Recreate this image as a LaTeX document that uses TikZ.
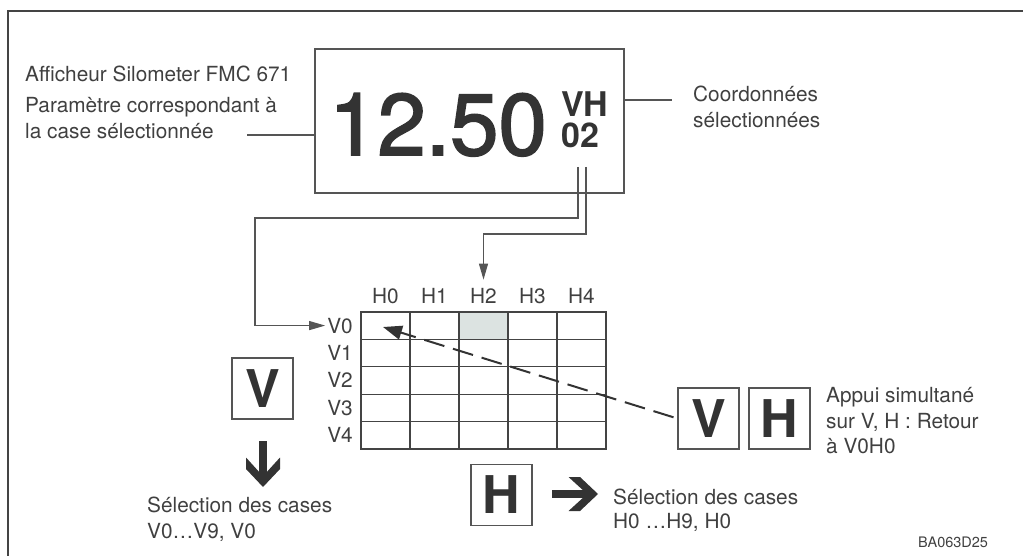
\documentclass[tikz,border=0pt]{standalone}
\usepackage{fontspec}
\setmainfont{TeX Gyre Heros}
\newfontfamily\medfont[FakeBold=2]{TeX Gyre Heros}
\usetikzlibrary{arrows.meta}
\definecolor{txtgray}{HTML}{404040}
\definecolor{dark}{HTML}{333333}
\definecolor{lngray}{HTML}{555555}
\definecolor{cellfill}{HTML}{DCE3E1}
\begin{document}
\begin{tikzpicture}[x=1pt,y=-1pt,
  txt/.style={font=\fontsize{20.8}{26}\selectfont, text=txtgray, inner sep=0pt},
  lbl/.style={txt, inner sep=2pt},
  keybox/.style={draw=lngray, line width=1.3pt, minimum width=61pt, minimum height=61pt, inner sep=0pt,
    font=\fontsize{52}{52}\selectfont\bfseries, text=dark},
  conn/.style={draw=lngray, line width=1.2pt, -{Triangle[length=16pt,width=9pt]}},
  thinline/.style={draw=lngray, line width=1.2pt},
  gridline/.style={draw=lngray!80!black, line width=1.3pt},
  fatarrow/.pic={\fill[dark] (0,0) -- (-18,-17) -- (-29.5,-17) -- (-15,-3.8) -- (-46,-3.8) -- (-46,3.8) -- (-15,3.8) -- (-29.5,17) -- (-18,17) -- cycle;},
]
\useasboundingbox (0,0) rectangle (1023,556);
% outer frame
\draw[draw=lngray!80!black, line width=2pt] (7.5,556) -- (7.5,11) -- (1023,11);

% texts top left
\node[txt, anchor=base west] (t1) at (25,82) {Afficheur Silometer FMC 671};
\node[txt, anchor=base west] (t2a) at (25,113) {Paramètre correspondant à};
\node[txt, anchor=base west] (t2b) at (25,139) {la case sélectionnée};

% display
\node[draw=lngray, line width=1.3pt, minimum width=309pt, minimum height=144pt, inner sep=0pt] (disp) at (469.5,121) {};
\node[anchor=base west, inner sep=0pt, font=\medfont\fontsize{87}{87}\selectfont, text=dark] (val) at (329,155) {12.50};
\node[anchor=base west, inner sep=0pt, font=\fontsize{34}{34}\selectfont\bfseries, text=dark] (vh) at (561,117) {VH};
\node[anchor=base west, inner sep=0pt, font=\fontsize{34}{34}\selectfont\bfseries, text=dark] (n02) at (561,148) {02};

\draw[thinline] (247,135) -- (disp.west |- 0,135);
\draw[thinline] (disp.east |- 0,100) -- (672,100);
\node[txt, anchor=base west] (t3a) at (693,102) {Coordonnées};
\node[txt, anchor=base west] (t3b) at (693,128) {sélectionnées};

% grid
\fill[cellfill] (459,312) rectangle (508,339.4);
\node[gridline, minimum width=245pt, minimum height=137pt, inner sep=0pt] (grid) at (483.5,380.5) {};
\foreach \i in {1,...,4} \draw[gridline] (361+49*\i,312) -- (361+49*\i,449);
\foreach \j in {1,...,4} \draw[gridline] (361,312+27.4*\j) -- (606,312+27.4*\j);
\foreach \i in {0,...,4} \node[lbl, anchor=base] (H\i) at (385.5+49*\i,303) {H\i};
\foreach \j in {0,...,4} \node[lbl, anchor=base east] (V\j) at (355,333+27.4*\j) {V\j};

% connectors from display
\coordinate (pA) at (578,167);
\coordinate (pB) at (586,167);
\draw[conn] (pA) |- (255,218) |- (V0);
\draw[conn, shorten >=6pt] (pB) |- (H2.north |- 0,234) -- (H2.north);

% keys
\node[keybox] (kV1) at (262.5,388.5) {V};
\pic[rotate=-90] at (263,487) {fatarrow};
\node[txt, anchor=base west] (t4a) at (147,512) {Sélection des cases};
\node[txt, anchor=base west] (t4b) at (147,538) {V0…V9, V0};

\node[keybox] (kH1) at (501.5,495) {H};
\pic at (598,494) {fatarrow};
\node[txt, anchor=base west] (t5a) at (613,504) {Sélection des cases};
\node[txt, anchor=base west] (t5b) at (613,528) {H0 …H9, H0};

\node[keybox] (kV2) at (708.5,418.5) {V};
\node[keybox] (kH2) at (779.5,418.5) {H};
\node[txt, anchor=base west] (t6a) at (826,402) {Appui simultané};
\node[txt, anchor=base west] (t6b) at (826,428) {sur V, H : Retour};
\node[txt, anchor=base west] (t6c) at (826,453) {à V0H0};

% dashed return connector
\coordinate (c00) at (383,327);
\draw[draw=dark, line width=2pt, dash pattern=on 21pt off 9pt, shorten <=4pt,
  -{Triangle[length=19pt,width=14pt]}] (kV2.west) -- (c00);

\node[anchor=base west, inner sep=0pt, font=\fontsize{14.5}{16}\selectfont, text=txtgray] (code) at (918,547) {BA063D25};
\end{tikzpicture}
\end{document}
